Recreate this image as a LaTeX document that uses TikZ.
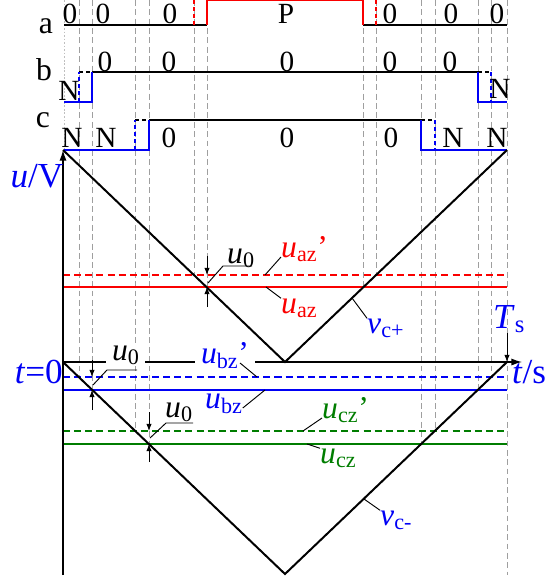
\documentclass[tikz,border=0pt]{standalone}
\usepackage{fontspec}
\setmainfont{Liberation Serif}
\usetikzlibrary{arrows.meta}
\definecolor{pblue}{RGB}{0,0,245}
\definecolor{pred}{RGB}{250,0,0}
\definecolor{pgreen}{RGB}{0,125,0}
\newcommand{\vsub}[2]{\textit{#1}\textsubscript{#2}}

\begin{document}
\begin{tikzpicture}[
      x=0.03cm, y=-0.03cm,
      grid/.style={draw=gray!75, line width=0.6pt, dash pattern=on 5pt off 3pt},
      lvl/.style={draw=black, line width=2.5pt},
      rstep/.style={draw=pred, line width=2.5pt},
      bstep/.style={draw=pblue, line width=2.5pt},
      dots/.style={dash pattern=on 3pt off 3pt},
      hl/.style={line width=2pt},
      hld/.style={line width=2pt, dash pattern=on 6pt off 3.5pt},
      tri/.style={draw=black, line width=1.7pt},
      axis/.style={draw=black, line width=1.1pt, -{Latex[length=9pt,width=6pt]}},
      uarrow/.style={draw=black, line width=0.8pt, -{Latex[length=6pt,width=4.5pt]}},
      lead/.style={draw=black, line width=0.8pt},
      rowtxt/.style={font=\fontsize{25}{27}\selectfont, inner sep=0pt, anchor=base},
      rowname/.style={font=\fontsize{27}{29}\selectfont, inner sep=0pt, anchor=base},
      mlbl/.style={font=\fontsize{27}{29}\selectfont, inner sep=0pt, anchor=base west},
      axlbl/.style={font=\fontsize{30}{32}\selectfont, inner sep=0pt, text=pblue},
    ]
    \useasboundingbox (0,0) rectangle (554,583);

    % switching instants
    \foreach \x/\y in {79/377, 92/390, 135/431, 149/444, 194/275, 207/287,
                       363/287, 376/275, 421/444, 435/431, 478/390, 491/377, 507/575}
      \draw[grid] (\x,0) -- (\x,\y);
    \draw[gray!50, line width=0.6pt, dash pattern=on 1.5pt off 1.5pt] (64,0) -- (64,150);

    % phase a
    \draw[lvl] (64,25) -- (207,25);
    \draw[lvl] (363,25) -- (507,25);
    \draw[rstep] (207,25) -- (207,-0.7) -- (363,-0.7) -- (363,25);
    \draw[rstep, dots] (194,25) -- (194,0);
    \draw[rstep, dots] (376,25) -- (376,0);

    % phase b
    \draw[lvl] (92,72) -- (478,72);
    \draw[lvl, dots] (79,72) -- (92,72);
    \draw[lvl, dots] (478,72) -- (491,72);
    \draw[bstep] (64,102) -- (92,102) -- (92,72);
    \draw[bstep] (478,72) -- (478,102) -- (507,102);
    \draw[bstep, dots] (79,102) -- (79,72);
    \draw[bstep, dots] (491,72) -- (491,102);

    % phase c
    \draw[lvl] (149,120) -- (421,120);
    \draw[lvl, dots] (135,120) -- (149,120);
    \draw[lvl, dots] (421,120) -- (435,120);
    \draw[bstep] (64,150) -- (149,150) -- (149,120);
    \draw[bstep] (421,120) -- (421,150) -- (507,150);
    \draw[bstep, dots] (135,150) -- (135,120);
    \draw[bstep, dots] (435,120) -- (435,150);

    % state labels
    \node[rowname] (na) at (46,33) {a};
    \node[rowname] (nb) at (44,80) {b};
    \node[rowname] (nc) at (43,127) {c};
    \node[rowtxt] (a1) at (70,23) {0};
    \node[rowtxt] (a2) at (103,23) {0};
    \node[rowtxt] (a3) at (170,23) {0};
    \node[rowtxt] (a4) at (286,23) {P};
    \node[rowtxt] (a5) at (390,23) {0};
    \node[rowtxt] (a6) at (451,23) {0};
    \node[rowtxt] (a7) at (497,23) {0};
    \node[rowtxt] (b1) at (69,100) {N};
    \node[rowtxt] (b2) at (105,71) {0};
    \node[rowtxt] (b3) at (169,71) {0};
    \node[rowtxt] (b4) at (287,71) {0};
    \node[rowtxt] (b5) at (390,71) {0};
    \node[rowtxt] (b6) at (450,71) {0};
    \node[rowtxt] (b7) at (500,98) {N};
    \node[rowtxt] (c1) at (72,147) {N};
    \node[rowtxt] (c2) at (106,147) {N};
    \node[rowtxt] (c3) at (169,147) {0};
    \node[rowtxt] (c4) at (287,147) {0};
    \node[rowtxt] (c5) at (391,147) {0};
    \node[rowtxt] (c6) at (453,147) {N};
    \node[rowtxt] (c7) at (497,147) {N};

    % zero-sequence references
    \draw[pred, hld] (63,275) -- (507,275);
    \draw[pred, hl] (63,287) -- (507,287);
    \draw[pblue, hld] (63,377) -- (507,377);
    \draw[pblue, hl] (63,390) -- (507,390);
    \draw[pgreen, hld] (63,431) -- (507,431);
    \draw[pgreen, hl] (63,444) -- (507,444);

    % carriers
    \draw[tri] (63,150) -- (285,362) -- (507,150);
    \draw[tri] (63,362) -- (285,574) -- (507,362);

    % axes
    \coordinate (O) at (63,362);
    \draw[axis] (63,575) -- (63,150);
    \draw[axis] (O) -- (522,362);
    \node[axlbl, anchor=base] (uV) at (37,187) {\textit{u}/V};
    \node[axlbl, anchor=base east] (t0) at (63,383) {\textit{t}=0};
    \node[axlbl, anchor=base west] (ts) at (512,383) {\textit{t}/s};
    \node[axlbl, anchor=base west] (Ts) at (493,328) {\vsub{T}{s}};
    \coordinate (Tend) at (507,362);
    \draw[uarrow] (Ts.south -| Tend) -- (Tend);

    % curve labels
    \node[mlbl, text=pred] (uazp) at (281,257) {\vsub{u}{az}’};
    \node[mlbl, text=pred] (uaz) at (281,313) {\vsub{u}{az}};
    \node[mlbl, text=pblue] (vcp) at (367,333) {\vsub{v}{c+}};
    \node[mlbl, text=pblue, fill=white, inner xsep=5pt, inner ysep=1pt] (ubzp) at (195,363) {\vsub{u}{bz}’};
    \node[mlbl, text=pblue] (ubz) at (205,408) {\vsub{u}{bz}};
    \node[mlbl, text=pgreen] (uczp) at (322,418) {\vsub{u}{cz}’};
    \node[mlbl, text=pgreen] (ucz) at (320,463) {\vsub{u}{cz}};
    \node[mlbl, text=pblue] (vcm) at (380,525) {\vsub{v}{c-}};
    \node[mlbl] (u0a) at (227,263) {\vsub{u}{0}};
    \node[mlbl, fill=white, inner xsep=5pt, inner ysep=1pt] (u0b) at (106,360) {\vsub{u}{0}};
    \node[mlbl] (u0c) at (165,417) {\vsub{u}{0}};

    % leaders
    \coordinate (pa1) at (265,275);
    \coordinate (pa2) at (266,287);
    \coordinate (pv1) at (352,298);
    \coordinate (pb1) at (257,377);
    \coordinate (pb2) at (265,390);
    \coordinate (pc1) at (303,431);
    \coordinate (pc2) at (307,444);
    \coordinate (pv2) at (364,499);
    \draw[lead] (pa1) -- (uazp.base west);
    \draw[lead] (pa2) -- (uaz.north west);
    \draw[lead] (pv1) -- (vcp.north west);
    \draw[lead] (pb1) -- (240,363);
    \draw[lead] (pb2) -- (ubz.base east);
    \draw[lead] (pc1) -- (uczp.base west);
    \draw[lead] (pc2) -- (ucz.north west);
    \draw[lead] (pv2) -- (vcm.north west);

    % offset u0
    \coordinate (xa) at (207,287);
    \coordinate (xb) at (92,390);
    \coordinate (xc) at (149,444);
    \draw[lead] (xa) ++(1,-4) -- (223,266) -- (252,266);
    \draw[lead] (xb) ++(1,-5) -- (107,370) -- (137,370);
    \draw[lead] (xc) ++(1,-6) -- (166,423) -- (193,423);
    \draw[uarrow] (207,256) -- (207,275);
    \draw[uarrow] (207,307) -- (xa);
    \draw[uarrow] (92,360) -- (92,377);
    \draw[uarrow] (92,410) -- (xb);
    \draw[uarrow] (149,412) -- (149,431);
    \draw[uarrow] (149,462) -- (xc);
  \end{tikzpicture}
\end{document}
